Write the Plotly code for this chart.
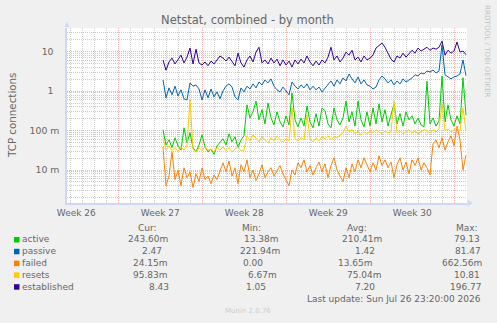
import plotly.graph_objects as go
import pandas as pd
import math

# ---------------- data ----------------
start_time = "2026-07-02 17:24"
step = "6h"

active = [0.105,0.043,0.058,0.037,0.066,0.041,0.032,0.118,0.049,0.088,
          0.037,0.029,0.043,0.078,0.039,0.029,0.034,0.025,0.041,0.052,
          0.062,0.043,0.083,0.052,0.070,0.037,0.058,0.074,0.45,0.21,
          0.30,0.56,0.187,0.34,0.148,0.50,0.21,0.14,0.30,0.166,
          0.125,0.237,0.14,0.90,0.187,0.125,0.21,0.13,0.42,0.166,
          0.118,0.27,0.13,0.376,0.32,0.148,0.118,0.376,0.187,0.14,
          0.21,0.56,0.166,0.30,0.13,0.56,0.187,0.125,0.30,0.13,
          0.376,0.148,0.476,0.166,0.34,0.13,0.25,0.476,0.148,0.27,
          0.13,0.30,0.187,0.237,0.148,0.21,0.14,0.125,1.8,0.148,
          0.21,0.13,0.176,2.43,0.166,0.45,0.187,0.13,0.237,0.148,
          2.2,0.2436]

passive = [1.93,0.68,1.21,0.81,1.34,0.76,1.08,0.64,0.60,1.62,
           1.34,1.44,1.14,0.60,1.08,0.68,1.14,0.72,0.96,0.64,
           1.02,1.34,1.53,1.27,0.72,0.60,1.21,0.96,1.34,1.14,
           1.53,1.21,1.71,1.44,1.93,1.62,2.05,1.34,1.08,0.96,
           1.27,1.02,0.81,1.71,1.34,1.14,1.44,1.21,1.53,1.08,
           1.34,1.08,1.27,0.96,1.21,1.44,1.82,1.34,1.93,1.53,
           2.17,1.82,2.73,2.05,1.62,2.30,1.53,1.93,1.44,1.34,
           1.14,1.27,1.93,2.43,2.05,1.62,1.93,1.44,1.82,1.53,
           2.05,1.71,1.93,2.17,2.60,2.43,2.90,2.73,3.24,3.07,
           3.44,2.90,3.24,15.0,2.60,2.30,2.05,2.30,2.43,2.73,
           6.2,2.47]

failed = [0.039,0.004,0.0071,0.029,0.0057,0.010,0.004,0.0114,0.0064,0.009,
          0.0036,0.008,0.0051,0.0114,0.0057,0.0071,0.0045,0.0075,0.0057,0.010,
          0.0153,0.009,0.017,0.0071,0.0114,0.0045,0.0136,0.009,0.0182,0.0064,
          0.010,0.0054,0.008,0.0136,0.0064,0.009,0.0114,0.0071,0.010,0.013,
          0.008,0.0057,0.004,0.010,0.0075,0.0153,0.0114,0.0182,0.009,0.013,
          0.0075,0.0114,0.016,0.009,0.0144,0.0064,0.013,0.0205,0.010,0.0071,
          0.0051,0.0114,0.0064,0.0144,0.009,0.0182,0.0114,0.0205,0.013,0.009,
          0.0153,0.010,0.023,0.013,0.0182,0.0114,0.016,0.0064,0.0136,0.0205,
          0.010,0.016,0.008,0.0182,0.013,0.0205,0.010,0.0153,0.0114,0.0075,
          0.046,0.058,0.0366,0.066,0.032,0.052,0.074,0.041,0.13,0.058,
          0.010,0.02415]

resets = [0.066,0.032,0.041,0.031,0.037,0.029,0.039,0.032,0.041,0.63,
          0.034,0.028,0.037,0.031,0.039,0.032,0.034,0.029,0.037,0.032,
          0.039,0.031,0.037,0.029,0.034,0.039,0.031,0.032,0.074,0.055,
          0.078,0.062,0.052,0.070,0.058,0.049,0.066,0.055,0.074,0.058,
          0.052,0.062,0.055,0.376,0.062,0.055,0.066,0.058,0.25,0.062,
          0.052,0.066,0.055,0.070,0.062,0.074,0.058,0.070,0.066,0.078,
          0.088,0.13,0.093,0.105,0.083,0.099,0.078,0.093,0.083,0.099,
          0.088,0.105,0.093,0.083,0.099,0.088,0.093,0.56,0.088,0.099,
          0.083,0.093,0.105,0.088,0.099,0.083,0.093,0.105,0.099,0.088,
          0.105,0.093,0.11,0.5,0.099,0.11,0.093,0.105,0.118,0.099,
          0.376,0.0958]

established = [6.2,3.4,5.5,6.9,4.9,6.5,8.2,5.2,7.3,12.4,
               4.9,11.6,5.2,4.6,5.5,4.4,5.8,4.9,6.2,7.8,
               6.9,5.8,7.3,5.8,4.4,9.2,5.2,4.1,6.2,7.8,
               5.5,9.8,13,5.2,6.2,4.9,6.9,5.2,6.5,4.4,
               6.2,4.6,5.8,4.1,6.2,4.9,6.5,5.2,7.8,5.5,
               4.4,5.8,4.6,6.2,5.2,7.3,13,6.2,7.8,5.5,
               6.9,9.8,8.2,10.9,6.2,7.3,5.5,7.8,6.2,6.9,
               8.2,12.4,14.8,16.6,13,9.2,6.5,5.5,7.8,6.9,
               9.2,7.3,8.7,10.9,9.2,12.4,10.4,11.6,13,10.9,
               12.4,11.6,13,18.6,8.2,10.9,9.2,10.4,17.6,9.8,
               10.4,8.43]

series_names = ["active", "passive", "failed", "resets", "established"]
series_colors = ["#00CC00", "#0066B3", "#FF8000", "#FFCC00", "#330099"]
series_values = [active, passive, failed, resets, established]

cur_txt = ["243.60m", "2.47", "24.15m", "95.83m", "8.43"]
min_txt = ["13.38m", "221.94m", "0.00", "6.67m", "1.05"]
avg_txt = ["210.41m", "1.42", "13.65m", "75.04m", "7.20"]
max_txt = ["79.13", "81.47", "662.56m", "10.81", "196.77"]
col_headers = ["Cur:", "Min:", "Avg:", "Max:"]

y_tickvals = [0.01, 0.1, 1, 10]
y_ticktext = ["10 m", "100 m", "1\u00a0\u00a0", "10\u00a0\u00a0"]

title_text = "Netstat, combined - by month"
y_title = "TCP connections"
last_update = "Last update: Sun Jul 26 23:20:00 2026"
munin_ver = "Munin 2.0.76"
rrd_credit = "RRDTOOL / TOBI OETIKER"

# ---------------- layout geometry ----------------
W, H = 497, 323
L, R, T, B = 67, 30, 28, 120
PW, PH = W - L - R, H - T - B

def px(x):
    return (x - L) / PW

def py(y):
    return (H - B - y) / PH

FONT = "DejaVu Sans"
FC = "#666666"
MAJOR_GRID = "rgba(225,120,120,0.55)"
MINOR_GRID = "rgba(160,160,160,0.55)"
DOTS = "1px,1px"

times = pd.date_range(start_time, periods=len(active), freq=step)

fig = go.Figure()
for name, col, vals in zip(series_names, series_colors, series_values):
    fig.add_trace(go.Scatter(x=times, y=vals, mode="lines", name=name,
                             line=dict(color=col, width=1), showlegend=False,
                             hoverinfo="skip"))

minor_y = [m * 10 ** e for e in range(-3, 2) for m in range(2, 10)]

fig.update_layout(
    width=W, height=H, autosize=False,
    margin=dict(l=L, r=R, t=T, b=B, pad=0),
    paper_bgcolor="#F0F0F0", plot_bgcolor="#FFFFFF",
    font=dict(family=FONT, color=FC, size=9),
    title=dict(text=title_text, x=247.5 / W, y=1 - 20 / H, xanchor="center",
               yanchor="middle", font=dict(size=11.5, color=FC, family=FONT)),
    xaxis=dict(
        type="date",
        range=["2026-06-24 17:24", "2026-07-28 01:24"],
        tick0="2026-06-22", dtick=7 * 86400000,
        ticklabelmode="period", tickformat="Week %V",
        showgrid=True, gridcolor=MAJOR_GRID, griddash=DOTS, gridwidth=1,
        minor=dict(dtick=86400000, tick0="2026-06-22", showgrid=True,
                   gridcolor=MINOR_GRID, griddash=DOTS, gridwidth=1),
        showline=True, linecolor="#CFD6F8", linewidth=1.5,
        ticks="", zeroline=False, tickfont=dict(size=9, color=FC),
        fixedrange=True,
    ),
    yaxis=dict(
        type="log",
        range=[math.log10(0.00146), math.log10(40)],
        tickmode="array", tickvals=y_tickvals, ticktext=y_ticktext,
        showgrid=True, gridcolor=MAJOR_GRID, griddash=DOTS, gridwidth=1,
        minor=dict(tickmode="array", tickvals=minor_y, showgrid=True,
                   gridcolor=MINOR_GRID, griddash=DOTS, gridwidth=1),
        showline=True, linecolor="#CFD6F8", linewidth=1.5,
        ticks="", ticklabelstandoff=4, zeroline=False,
        tickfont=dict(size=9.3, color=FC), fixedrange=True,
    ),
)

shapes = []
# axis arrows
shapes.append(dict(type="path", xref="paper", yref="paper",
                   path=f"M {px(64.5)},{py(27)} L {px(69.5)},{py(27)} L {px(67)},{py(21.5)} Z",
                   fillcolor="#CFD6F8", line=dict(width=0)))
shapes.append(dict(type="path", xref="paper", yref="paper",
                   path=f"M {px(467.5)},{py(199.5)} L {px(467.5)},{py(206.5)} L {px(473)},{py(203)} Z",
                   fillcolor="#CFD6F8", line=dict(width=0)))

annotations = []
annotations.append(dict(text=y_title, xref="paper", yref="paper", x=px(11.5), y=0.5,
                        textangle=-90, showarrow=False, xanchor="center", yanchor="middle",
                        font=dict(size=10.3, color=FC, family=FONT)))
annotations.append(dict(text=rrd_credit, xref="paper", yref="paper", x=px(488), y=py(51),
                        textangle=90, showarrow=False, xanchor="center", yanchor="middle",
                        font=dict(size=7.2, color="#C4C4C4", family=FONT)))

row_y = [239.3, 251.1, 262.9, 274.7, 286.5]
header_x = [147, 251, 357, 466.5]
cur_x = [148, 151.5, 150, 150, 159]
min_x = [261, 259.5, 252.5, 262, 255.5]
avg_x = [362, 364.5, 355.5, 364.5, 365]
max_x = [467, 468, 462, 467, 466]

for hx, ht in zip(header_x, col_headers):
    annotations.append(dict(text=ht, xref="paper", yref="paper", x=px(hx), y=py(227.5),
                            showarrow=False, xanchor="center", yanchor="middle",
                            font=dict(size=9, color=FC, family=FONT)))

for i, (name, col) in enumerate(zip(series_names, series_colors)):
    ry = row_y[i]
    shapes.append(dict(type="rect", xref="paper", yref="paper",
                       x0=px(14), x1=px(19.5), y0=py(ry - 2.3), y1=py(ry + 3.2),
                       fillcolor=col, line=dict(width=0)))
    annotations.append(dict(text=name, xref="paper", yref="paper", x=px(20), y=py(ry),
                            showarrow=False, xanchor="left", yanchor="middle",
                            font=dict(size=9, color=FC, family=FONT)))
    for xs, txts in ((cur_x, cur_txt), (min_x, min_txt), (avg_x, avg_txt), (max_x, max_txt)):
        annotations.append(dict(text=txts[i], xref="paper", yref="paper", x=px(xs[i]), y=py(ry),
                                showarrow=False, xanchor="center", yanchor="middle",
                                font=dict(size=9, color=FC, family=FONT)))

annotations.append(dict(text=last_update, xref="paper", yref="paper", x=px(482.5), y=py(298.5),
                        showarrow=False, xanchor="right", yanchor="middle",
                        font=dict(size=9, color=FC, family=FONT)))
annotations.append(dict(text=munin_ver, xref="paper", yref="paper", x=px(248), y=py(311),
                        showarrow=False, xanchor="center", yanchor="middle",
                        font=dict(size=7, color="#CCCCCC", family=FONT)))

fig.update_layout(shapes=shapes, annotations=annotations)

fig.write_html("out.html", config={"displayModeBar": False})
